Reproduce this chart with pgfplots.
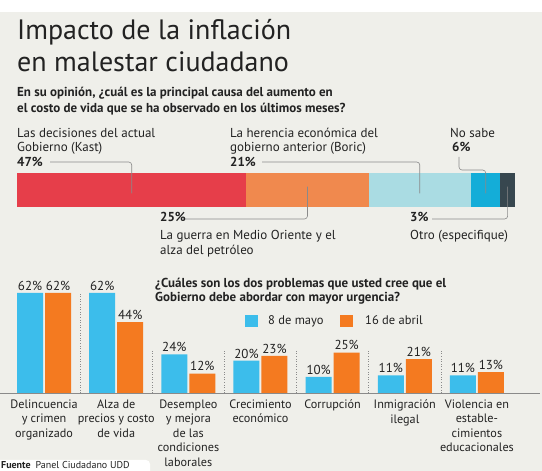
\documentclass[border=0pt]{standalone}
\usepackage{pgfplots}
\pgfplotsset{compat=1.18}
\usepackage{fontspec}
\setmainfont{PT Sans}
\usetikzlibrary{calc}
\definecolor{bg}{HTML}{EFEFEA}
\definecolor{cRed}{HTML}{E63E4A}
\definecolor{cOra}{HTML}{F0894E}
\definecolor{cLbl}{HTML}{AADCE3}
\definecolor{cBlu}{HTML}{14ADD8}
\definecolor{cDrk}{HTML}{37474F}
\definecolor{bBlu}{HTML}{3CBDEB}
\definecolor{bOra}{HTML}{F47A20}
\definecolor{txt}{HTML}{222222}
\definecolor{lead}{HTML}{8A8A8A}
\begin{document}
\begin{tikzpicture}[x=1pt,y=1pt]
\useasboundingbox (0,0) rectangle (542,471);
\fill[bg] (0,0) rectangle (542,459);
% Title
\node[anchor=base west, inner sep=0, text=txt, font=\fontsize{28}{30}\selectfont] at (17,431) {Impacto de la inflación};
\node[anchor=base west, inner sep=0, text=txt, font=\fontsize{28}{30}\selectfont] at (17,399) {en malestar ciudadano};
\node[anchor=base west, inner sep=0, text=txt, font=\bfseries\fontsize{13}{15}\selectfont] at (17,374) {En su opinión, ¿cuál es la principal causa del aumento en};
\node[anchor=base west, inner sep=0, text=txt, font=\bfseries\fontsize{13}{15}\selectfont] at (17,358) {el costo de vida que se ha observado en los últimos meses?};
% stacked bar
\begin{axis}[at={(17pt,264pt)}, anchor=south west, scale only axis, width=498pt, height=34pt,
  xbar stacked, bar width=34pt, xmin=0, xmax=102, ymin=-0.5, ymax=0.5, hide axis, clip=false]
\addplot[fill=cRed, draw=none] coordinates {(47,0)};
\addplot[fill=cOra, draw=none] coordinates {(25,0)};
\addplot[fill=cLbl, draw=none] coordinates {(21,0)};
\addplot[fill=cBlu, draw=none] coordinates {(6,0)};
\addplot[fill=cDrk, draw=none] coordinates {(3,0)};
\coordinate (r) at (axis cs:23.5,-0.1);
\coordinate (o) at (axis cs:59.5,0.1);
\coordinate (l) at (axis cs:82.5,-0.1);
\coordinate (b) at (axis cs:96,-0.1);
\coordinate (d) at (axis cs:100.5,0.1);
\end{axis}
\begin{scope}[lead, line width=0.6pt, rounded corners=3pt]
\draw (50,309) -| (r);
\draw (262,309) -| (l);
\draw (459,314) -- (459,301) -| (b);
\draw (183,252) -| (o);
\draw (432,252) -| (d);
\end{scope}
\begin{scope}[every node/.style={anchor=base west, inner sep=0, text=txt, font=\fontsize{13}{15}\selectfont}]
\node at (17,333) {Las decisiones del actual};
\node at (17,319) {Gobierno (Kast)};
\node[font=\bfseries\fontsize{13}{15}\selectfont] at (17,304) {47\%};
\node at (230,333) {La herencia económica del};
\node at (230,319) {gobierno anterior (Boric)};
\node[font=\bfseries\fontsize{13}{15}\selectfont] at (230,304) {21\%};
\node at (450,333) {No sabe};
\node[font=\bfseries\fontsize{13}{15}\selectfont] at (452,319) {6\%};
\node[font=\bfseries\fontsize{13}{15}\selectfont] at (160,249) {25\%};
\node at (160,231) {La guerra en Medio Oriente y el};
\node at (160,216.5) {alza del petróleo};
\node[font=\bfseries\fontsize{13}{15}\selectfont] at (410,249) {3\%};
\node at (410,231) {Otro (especifique)};
\end{scope}
% grouped bars
\draw[lead, line width=0.7pt] (0,78) -- (540,78);
\begin{axis}[at={(8pt,78pt)}, anchor=south west, scale only axis, width=505pt, height=100pt,
  xmin=-0.5, xmax=6.5, ymin=0, ymax=62, ybar=2pt, bar width=26pt, clip=false,
  /pgf/number format/assume math mode=true,
  axis line style={draw=none}, tick style={draw=none}, ytick=\empty,
  xtick={0,...,6},
  xticklabels={{Delincuencia\\y crimen\\organizado},{Alza de\\precios y costo\\de vida},{Desempleo\\y mejora\\de las\\condiciones\\laborales},{Crecimiento\\económico},{Corrupción},{Inmigración\\ilegal},{Violencia en\\estable-\\cimientos\\educacionales}},
  xticklabel style={align=center, text=txt, font=\fontsize{12.2}{14.5}\selectfont, yshift=1pt},
  nodes near coords={\pgfmathprintnumber{\pgfplotspointmeta}\%},
  every node near coord/.append style={text=txt, font=\fontsize{13}{14}\selectfont, yshift=-1pt}]
\addplot[fill=bBlu, draw=none] coordinates {(0,62) (1,62) (2,24) (3,20) (4,10) (5,11) (6,11)};
\addplot[fill=bOra, draw=none] coordinates {(0,62) (1,44) (2,12) (3,23) (4,25) (5,21) (6,13)};
\draw[lead, dotted, line width=0.6pt] (axis cs:0.5,0) -- (axis cs:0.5,62);
\draw[lead, dotted, line width=0.6pt] (axis cs:1.5,0) -- (axis cs:1.5,27);
\draw[lead, dotted, line width=0.6pt] (axis cs:2.5,0) -- (axis cs:2.5,27);
\draw[lead, dotted, line width=0.6pt] (axis cs:3.5,0) -- (axis cs:3.5,27);
\draw[lead, dotted, line width=0.6pt] (axis cs:4.5,0) -- (axis cs:4.5,27);
\draw[lead, dotted, line width=0.6pt] (axis cs:5.5,0) -- (axis cs:5.5,27);
\end{axis}
\node[anchor=base west, inner sep=0, text=txt, font=\bfseries\fontsize{13}{15}\selectfont] at (155,183) {¿Cuáles son los dos problemas que usted cree que el};
\node[anchor=base west, inner sep=0, text=txt, font=\bfseries\fontsize{13}{15}\selectfont] at (155,169) {Gobierno debe abordar con mayor urgencia?};
\fill[bBlu] (245,144) rectangle (258,156);
\node[anchor=base west, inner sep=0, text=txt, font=\fontsize{12.5}{14}\selectfont] at (268,146) {8 de mayo};
\fill[bOra] (340,144) rectangle (353,156);
\node[anchor=base west, inner sep=0, text=txt, font=\fontsize{12.5}{14}\selectfont] at (365,146) {16 de abril};
% source
\fill[white, rounded corners=4pt] (-5,-5) rectangle (150,11);
\node[anchor=base west, inner sep=0, text=txt, font=\fontsize{10}{12}\selectfont] at (1,2) {\textbf{Fuente}\enspace Panel Ciudadano UDD};
\end{tikzpicture}
\end{document}
